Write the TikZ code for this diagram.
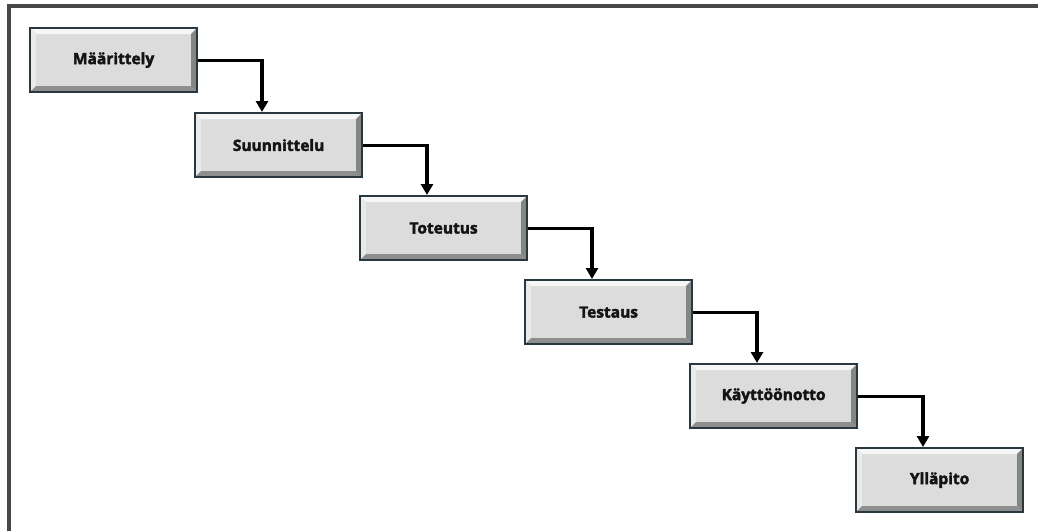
\documentclass[tikz,border=0pt]{standalone}
\usepackage{fontspec}
\setmainfont{Open Sans}
\usetikzlibrary{arrows.meta}
\definecolor{boxface}{HTML}{DCDCDC}
\definecolor{boxedge}{HTML}{283740}
\definecolor{bevlight}{HTML}{F6F6F6}
\definecolor{bevleft}{HTML}{EAEAEA}
\definecolor{bevdark}{HTML}{8E8E8E}
\definecolor{bevright}{HTML}{858585}
\tikzset{
  stagebox/.style={
    anchor=north west, minimum width=167pt, minimum height=64pt, inner sep=0pt,
    fill=boxface, draw=boxedge, line width=2.2pt,
    font=\fontsize{15.5}{18}\selectfont\bfseries\addfontfeature{FakeBold=2.5}, text=black!92,
    path picture={
      \coordinate (pnw) at (path picture bounding box.north west);
      \coordinate (pne) at (path picture bounding box.north east);
      \coordinate (psw) at (path picture bounding box.south west);
      \coordinate (pse) at (path picture bounding box.south east);
      \coordinate (inw) at ([xshift=6pt,yshift=-6pt]path picture bounding box.north west);
      \coordinate (ine) at ([xshift=-6pt,yshift=-6pt]path picture bounding box.north east);
      \coordinate (isw) at ([xshift=6pt,yshift=6pt]path picture bounding box.south west);
      \coordinate (ise) at ([xshift=-6pt,yshift=6pt]path picture bounding box.south east);
      \fill[bevlight] (pnw) -- (pne) -- (ine) -- (inw) -- cycle;
      \fill[bevleft] (pnw) -- (inw) -- (isw) -- (psw) -- cycle;
      \fill[bevdark] (psw) -- (isw) -- (ise) -- (pse) -- cycle;
      \fill[bevright] (pne) -- (pse) -- (ise) -- (ine) -- cycle;
    }
  },
  conn/.style={draw=black, line width=3.2pt, -{Triangle[length=11pt,width=12pt]}},
  frameline/.style={line width=3.2pt, draw=black!72}
}
\begin{document}
\begin{tikzpicture}[x=1pt,y=-1pt]
\useasboundingbox (0,0) rectangle (1038,531);
\fill[white] (0,0) rectangle (1038,531);
\coordinate (ftl) at (9,6);
\coordinate (ftr) at (1038,6);
\coordinate (fbl) at (9,531);
\draw[frameline] (fbl) -- (ftl) -- (ftr);

\node[stagebox] (m) at (29,27) {Määrittely};
\node[stagebox] (s) at (194,112) {Suunnittelu};
\node[stagebox] (t) at (359,195) {Toteutus};
\node[stagebox] (te) at (524,279) {Testaus};
\node[stagebox] (k) at (689,363) {Käyttöönotto};
\node[stagebox] (y) at (855,447) {Ylläpito};

\draw[conn] (m.east) -| ([xshift=68pt]s.north west);
\draw[conn] (s.east) -| ([xshift=68pt]t.north west);
\draw[conn] (t.east) -| ([xshift=68pt]te.north west);
\draw[conn] (te.east) -| ([xshift=68pt]k.north west);
\draw[conn] (k.east) -| ([xshift=68pt]y.north west);
\end{tikzpicture}
\end{document}
